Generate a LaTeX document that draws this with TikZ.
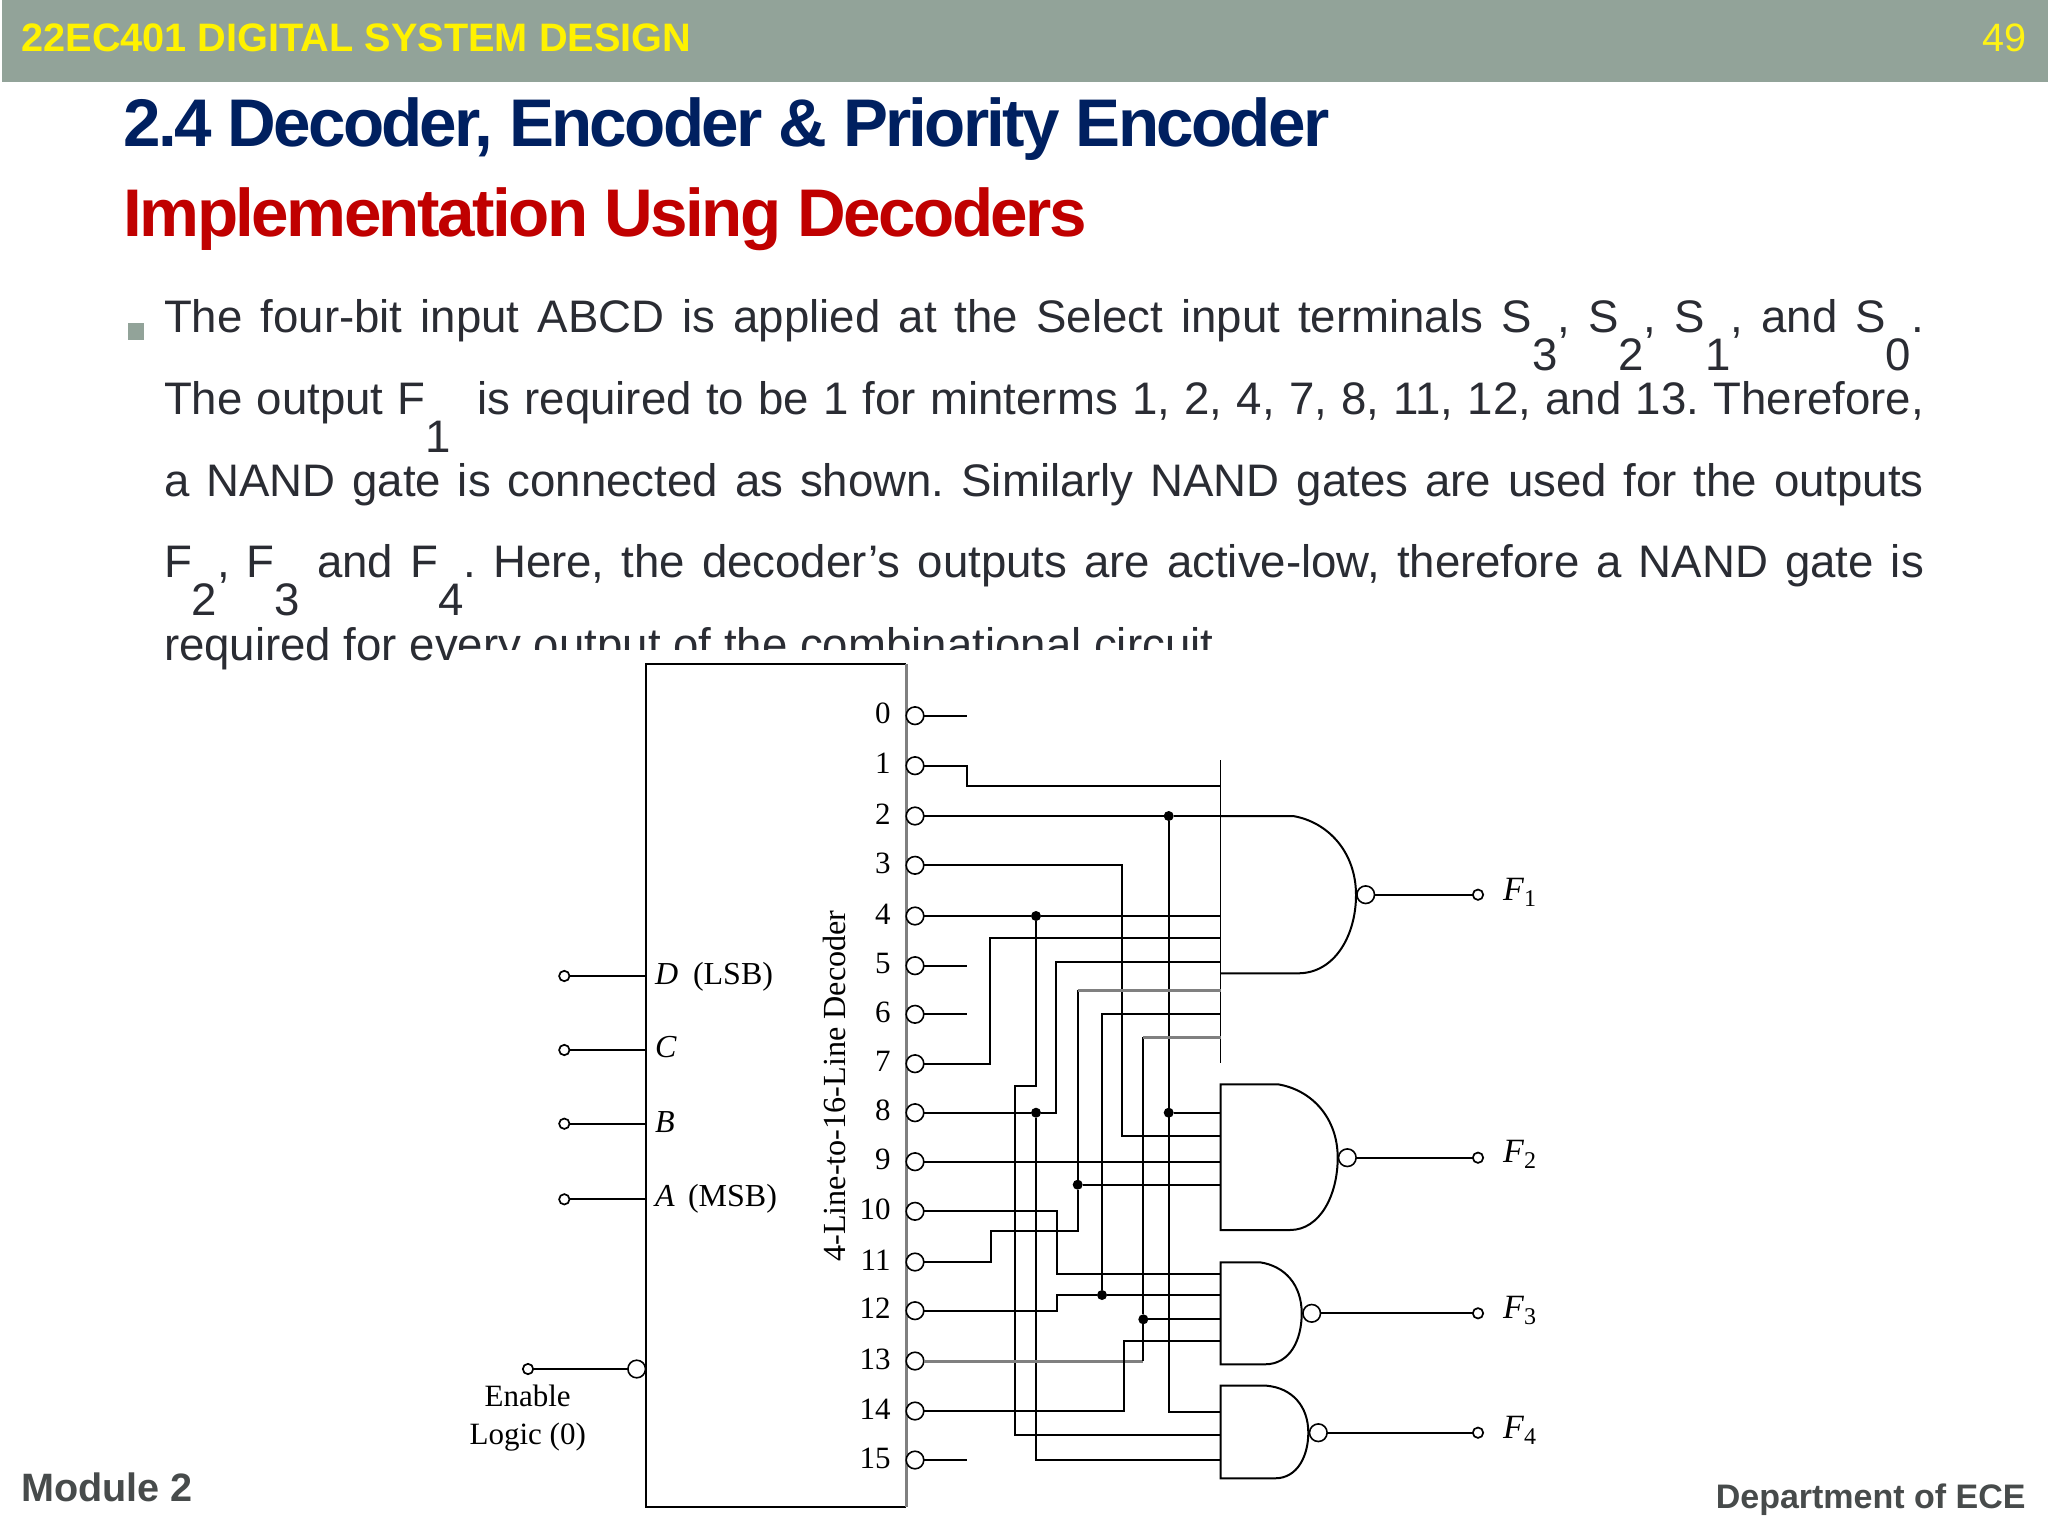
\documentclass[tikz,border=0pt]{standalone}
\usepackage{fontspec}
\setmainfont{Liberation Sans}
\newfontfamily\timesf{Liberation Serif}
\newfontfamily\titlef[LetterSpace=-3.8]{Liberation Sans Bold}
\newfontfamily\titleg[LetterSpace=-4.05]{Liberation Sans Bold}
\definecolor{barc}{HTML}{92A399}
\definecolor{navyc}{HTML}{002060}
\definecolor{redc}{HTML}{C00000}
\definecolor{bodyc}{HTML}{2A2C33}
\definecolor{footc}{HTML}{474B4B}
\newcommand{\dn}[1]{\lower 18.85pt\hbox{#1}}
\newcommand{\bodyline}[1]{\hbox to 880pt{\frenchspacing\spaceskip=0.278em plus 1fil\relax #1}}
\newcommand{\FF}[1]{\textit{F}\lower 3pt\hbox{\fontsize{12}{14}\selectfont #1}}
\tikzset{
  x=0.5pt,y=-0.5pt,
  wire/.style={line width=1pt,black,line join=miter},
  graywire/.style={line width=1.5pt,black!50,line join=miter},
  bub/.style={circle,draw=black,fill=white,line width=0.8pt,inner sep=0pt,outer sep=0pt,minimum size=8.8pt},
  term/.style={circle,draw=black,fill=white,line width=0.85pt,inner sep=0pt,outer sep=0pt,minimum size=5.2pt},
  dot/.style={circle,fill=black,inner sep=0pt,outer sep=0pt,minimum size=5pt},
  gate/.style={line width=1pt,black,line join=miter},
  body/.style={inner sep=0pt,outer sep=0pt,anchor=base west,text=bodyc,font=\fontsize{22.8}{26}\selectfont},
  lab/.style={inner sep=0pt,outer sep=0pt,anchor=base west,text=black,font=\timesf\fontsize{16}{20}\selectfont},
  pinnum/.style={inner sep=0pt,outer sep=0pt,anchor=base east,text=black,font=\timesf\fontsize{15.5}{18}\selectfont},
  cent/.style={inner sep=0pt,outer sep=0pt,anchor=base,text=black,font=\timesf\fontsize{15.5}{18}\selectfont},
  flab/.style={inner sep=0pt,outer sep=0pt,anchor=base west,text=black,font=\timesf\fontsize{17}{20}\selectfont},
}
\begin{document}
\begin{tikzpicture}
\useasboundingbox (0,0) rectangle (2048,1536);
\fill[white] (0,0) rectangle (2048,1536);
% header
\fill[barc] (2,0) rectangle (2048,81.7);
\node[inner sep=0pt,anchor=base west,text=yellow,font=\bfseries\fontsize{19.85}{24}\selectfont] (hd) at (21,51.7) {22EC401 DIGITAL SYSTEM DESIGN};
\node[inner sep=0pt,anchor=base east,text=yellow!92!white,font=\fontsize{19.8}{24}\selectfont] (pg) at (2027,51.7) {49};
% titles
\node[inner sep=0pt,anchor=base west,text=navyc,font=\titleg\fontsize{33.7}{40}\selectfont] (t1) at (123,146.7) {2.4 Decoder, Encoder \& Priority Encoder};
\node[inner sep=0pt,anchor=base west,text=redc,font=\titlef\fontsize{33.7}{40}\selectfont] (t2) at (123,236) {Implementation Using Decoders};
% bullet and body
\fill[barc] (128,323) rectangle (144,340);
\node[body] (l1) at (164,332.7) {\bodyline{The four-bit input ABCD is applied at the Select input terminals S\dn{3}, S\dn{2}, S\dn{1}, and S\dn{0}.}};
\node[body] (l2) at (164,414.3) {\bodyline{The output F\dn{1}\kern 6pt\ is required to be 1 for minterms 1, 2, 4, 7, 8, 11, 12, and 13. Therefore,}};
\node[body] (l3) at (164,496) {\bodyline{a NAND gate is connected as shown. Similarly NAND gates are used for the outputs}};
\node[body] (l4) at (164,577.7) {\bodyline{F\dn{2}, F\dn{3} and F\dn{4}. Here, the decoder’s outputs are active-low, therefore a NAND gate is}};
\node[body] (l5) at (164,660) {\frenchspacing required for every output of the combinational circuit};
\fill[white] (459,650) rectangle (1320,700);
% decoder
\draw[line width=1.05pt,black] (906,664) -- (646,664) -- (646,1507.3) -- (906,1507.3);
\draw[line width=1.5pt,black!50] (906,664) -- (906,1507.3);
\node[inner sep=0pt,outer sep=0pt,rotate=90,anchor=base,text=black,font=\timesf\fontsize{16.1}{20}\selectfont] (dname) at (845,1086) {4-Line-to-16-Line Decoder};
% output bubbles and numbers
\foreach \n/\yy in {0/715.7,1/765.7,2/816,3/865.3,4/916,5/965.7,6/1014.3,7/1063.7,8/1112.7,9/1161.7,10/1211.3,11/1262,12/1310.7,13/1361,14/1411,15/1460}{
  \node[bub] (o\n) at (915,\yy) {};
  \node[pinnum] (n\n) at (890.5,\yy+8) {\n};
}
% stubs
\coordinate (s0) at (967,715.7);
\coordinate (s5) at (967,965.7);
\coordinate (s6) at (967,1014.3);
\coordinate (s15) at (967,1460);
\draw[wire] (o0.east) -- (s0);
\draw[wire] (o5.east) -- (s5);
\draw[wire] (o6.east) -- (s6);
\draw[wire] (o15.east) -- (s15);
% inputs
\node[term] (tD) at (564.3,976) {};
\node[term] (tC) at (564.3,1050) {};
\node[term] (tB) at (564.3,1123.7) {};
\node[term] (tA) at (564.3,1199.3) {};
\coordinate (iD) at (646,976);
\coordinate (iC) at (646,1050);
\coordinate (iB) at (646,1123.7);
\coordinate (iA) at (646,1199.3);
\draw[wire] (tD) -- (iD);
\draw[wire] (tC) -- (iC);
\draw[wire] (tB) -- (iB);
\draw[wire] (tA) -- (iA);
\node[lab] (lD) at (655,984.5) {\textit{D}};
\node[lab] (lLSB) at (693,984.5) {(LSB)};
\node[lab] (lC) at (655,1057.7) {\textit{C}};
\node[lab] (lB) at (655,1132.7) {\textit{B}};
\node[lab] (lA) at (655,1206.7) {\textit{A}};
\node[lab] (lMSB) at (688,1206.7) {(MSB)};
% enable
\node[bub] (en) at (636.7,1369) {};
\node[term] (tE) at (528,1369) {};
\draw[wire] (tE) -- (en);
\node[cent] (e1) at (527.7,1406) {Enable};
\node[cent] (e2) at (527.7,1444) {Logic (0)};
% gates
\draw[line width=0.9pt,black] (1220.5,760) -- (1220.5,1062.7);
\draw[gate] (1220.5,816) -- (1293,816) .. controls (1328,822) and (1356,852) .. (1356,895) .. controls (1356,935) and (1335,973.3) .. (1298,973.3) -- (1220.5,973.3);
\draw[gate] (1220.5,1084.3) -- (1278,1084.3) .. controls (1312,1090) and (1337.7,1118) .. (1337.7,1157.7) .. controls (1337.7,1195) and (1320,1230) .. (1290,1230) -- (1220.5,1230) -- cycle;
\draw[gate] (1220.5,1262.3) -- (1260,1262.3) .. controls (1285,1266) and (1301.7,1285) .. (1301.7,1313.3) .. controls (1301.7,1340) and (1290,1364.3) .. (1265,1364.3) -- (1220.5,1364.3) -- cycle;
\draw[gate] (1220.5,1385.7) -- (1266.7,1385.7) .. controls (1292,1388) and (1308.3,1406) .. (1308.3,1432.7) .. controls (1308.3,1455) and (1298,1478.3) .. (1275,1478.3) -- (1220.5,1478.3) -- cycle;
% gate outputs
\node[bub] (b1) at (1365.7,894.7) {};
\node[bub] (b2) at (1347.3,1157.7) {};
\node[bub] (b3) at (1311.7,1313.3) {};
\node[bub] (b4) at (1318.3,1432.7) {};
\node[term] (f1) at (1478,894.7) {};
\node[term] (f2) at (1478,1157.7) {};
\node[term] (f3) at (1478,1313.3) {};
\node[term] (f4) at (1478,1432.7) {};
\draw[wire] (b1) -- (f1);
\draw[wire] (b2) -- (f2);
\draw[wire] (b3) -- (f3);
\draw[wire] (b4) -- (f4);
\node[flab] (F1) at (1503,900) {\FF{1}};
\node[flab] (F2) at (1503,1162) {\FF{2}};
\node[flab] (F3) at (1503,1318.3) {\FF{3}};
\node[flab] (F4) at (1503,1438) {\FF{4}};
% junctions
\node[dot] (j2) at (1168.7,816) {};
\node[dot] (j2b) at (1168.7,1112.7) {};
\node[dot] (j4) at (1036,916) {};
\node[dot] (j8) at (1036,1112.7) {};
\node[dot] (j11) at (1077.7,1184.7) {};
\node[dot] (j12) at (1102,1295) {};
\node[dot] (j13) at (1143.3,1319.3) {};
% gate pins
\coordinate (p1) at (1220.5,786);
\coordinate (p2) at (1220.5,816);
\coordinate (p4) at (1220.5,916);
\coordinate (p7) at (1220.5,937.7);
\coordinate (p8) at (1220.5,961.7);
\coordinate (p11) at (1220.5,990);
\coordinate (p12) at (1220.5,1014.3);
\coordinate (p13) at (1220.5,1037.3);
\coordinate (q2) at (1220.5,1112.7);
\coordinate (q3) at (1220.5,1136);
\coordinate (q9) at (1220.5,1161.7);
\coordinate (q11) at (1220.5,1184.7);
\coordinate (r10) at (1220.5,1274);
\coordinate (r12) at (1220.5,1295);
\coordinate (r13) at (1220.5,1319.3);
\coordinate (r14) at (1220.5,1341);
\coordinate (u2) at (1220.5,1411.7);
\coordinate (u4) at (1220.5,1435);
\coordinate (u8) at (1220.5,1460);
% wires
\draw[wire] (o1.east) -- (967,765.7) -- (967,786) -- (p1);
\draw[wire] (o2.east) -- (j2) -- (p2);
\draw[wire] (j2) -- (1168.7,1411.7) -- (u2);
\draw[wire] (j2b) -- (q2);
\draw[wire] (o3.east) -- (1121.7,865.3) -- (1121.7,1136) -- (q3);
\draw[wire] (o4.east) -- (j4) -- (p4);
\draw[wire] (j4) -- (1036,1086) -- (1015.3,1086) -- (1015.3,1435) -- (u4);
\draw[wire] (o7.east) -- (989.7,1063.7) -- (989.7,937.7) -- (p7);
\draw[wire] (o8.east) -- (j8) -- (1056,1112.7) -- (1056,961.7) -- (p8);
\draw[wire] (j8) -- (1036,1460) -- (u8);
\draw[wire] (o9.east) -- (q9);
\draw[wire] (o10.east) -- (1056.7,1211.3) -- (1056.7,1274) -- (r10);
\draw[wire] (o11.east) -- (991,1262) -- (991,1230.7) -- (1077.7,1230.7) -- (j11);
\draw[wire] (j11) -- (1077.7,990);
\draw[graywire] (1077.7,990) -- (p11);
\draw[wire] (j11) -- (q11);
\draw[wire] (o12.east) -- (1057.3,1310.7) -- (1057.3,1295) -- (j12) -- (r12);
\draw[wire] (j12) -- (1102,1014.3) -- (p12);
\draw[graywire] (o13.east) -- (1143.3,1361);
\draw[wire] (1143.3,1361) -- (j13);
\draw[wire] (j13) -- (r13);
\draw[wire] (j13) -- (1143.3,1037.3);
\draw[graywire] (1143.3,1037.3) -- (p13);
\draw[wire] (o14.east) -- (1124.3,1411) -- (1124.3,1341) -- (r14);
% footer
\node[inner sep=0pt,anchor=base west,text=footc,font=\bfseries\fontsize{19.8}{24}\selectfont] (mod) at (21,1501.7) {Module 2};
\node[inner sep=0pt,anchor=base east,text=footc,font=\bfseries\fontsize{17}{20}\selectfont] (dep) at (2026,1508.3) {Department of ECE};
\end{tikzpicture}
\end{document}
